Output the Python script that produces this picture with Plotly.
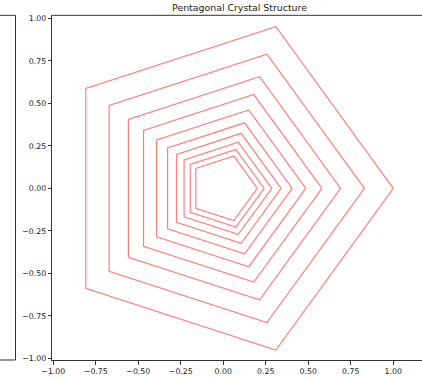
import numpy as np
import plotly.graph_objects as go

# Pentagon radii (outer to inner)
radii = [1.0, 0.83, 0.69, 0.58, 0.485, 0.405, 0.34, 0.285, 0.24, 0.2]
n_sides = 5
tick_vals = [-1.0, -0.75, -0.5, -0.25, 0.0, 0.25, 0.5, 0.75, 1.0]
title_text = "Pentagonal Crystal Structure"

W, H = 422, 377
# pixel geometry of plot area
px_left, px_right = 52.3, 422.0
py_top, py_bot = 15.3, 360.0
x0_px, y0_px, scale = 223.3, 188.3, 170.0

xr = [(px_left - x0_px) / scale, (px_right - x0_px) / scale]
yr = [(y0_px - py_bot) / scale, (y0_px - py_top) / scale]

fig = go.Figure()
ang = np.linspace(0, 2 * np.pi, n_sides + 1)
for r in radii:
    fig.add_trace(go.Scatter(
        x=r * np.cos(ang), y=r * np.sin(ang), mode="lines",
        line=dict(color="rgba(255,0,0,0.5)", width=1.2),
        showlegend=False, hoverinfo="skip"))

dx0 = px_left / W
dy0 = (H - py_bot) / H
dy1 = (H - py_top) / H
spine = dict(color="#333333", width=1)
font = dict(family="DejaVu Sans", size=7.8, color="#222222")

fig.update_layout(
    width=W, height=H, margin=dict(l=0, r=0, t=0, b=0, autoexpand=False),
    paper_bgcolor="white", plot_bgcolor="white",
    title=dict(text=title_text, x=239.5 / W, xanchor="center",
               y=(H - 8) / H, yanchor="middle",
               font=dict(family="DejaVu Sans", size=9.4, color="#222222")),
    xaxis=dict(domain=[dx0, 1], range=xr, showgrid=False, zeroline=False,
               automargin=False,
               showline=True, linecolor="#333333", linewidth=1,
               ticks="outside", ticklen=3.5, tickcolor="#333333",
               tickvals=tick_vals, tickformat=".2f", tickfont=font),
    yaxis=dict(domain=[dy0, dy1], range=yr, showgrid=False, zeroline=False,
               automargin=False,
               showline=True, linecolor="#333333", linewidth=1,
               ticks="outside", ticklen=3.5, tickcolor="#333333",
               tickvals=tick_vals, tickformat=".2f", tickfont=font),
    shapes=[
        # top spine of main axes
        dict(type="line", xref="paper", yref="paper", x0=dx0, x1=1, y0=dy1, y1=dy1, line=spine),
        # left partial panel box
        dict(type="line", xref="paper", yref="paper", x0=15.5 / W, x1=15.5 / W, y0=dy0, y1=dy1, line=spine),
        dict(type="line", xref="paper", yref="paper", x0=0, x1=15.5 / W, y0=dy1, y1=dy1, line=spine),
        dict(type="line", xref="paper", yref="paper", x0=0, x1=15.5 / W, y0=dy0, y1=dy0, line=spine),
    ],
)

fig.write_html(
    "out.html",
    config={"displayModeBar": False},
    post_script="document.body.style.margin='0';document.body.style.overflow='hidden';",
)
